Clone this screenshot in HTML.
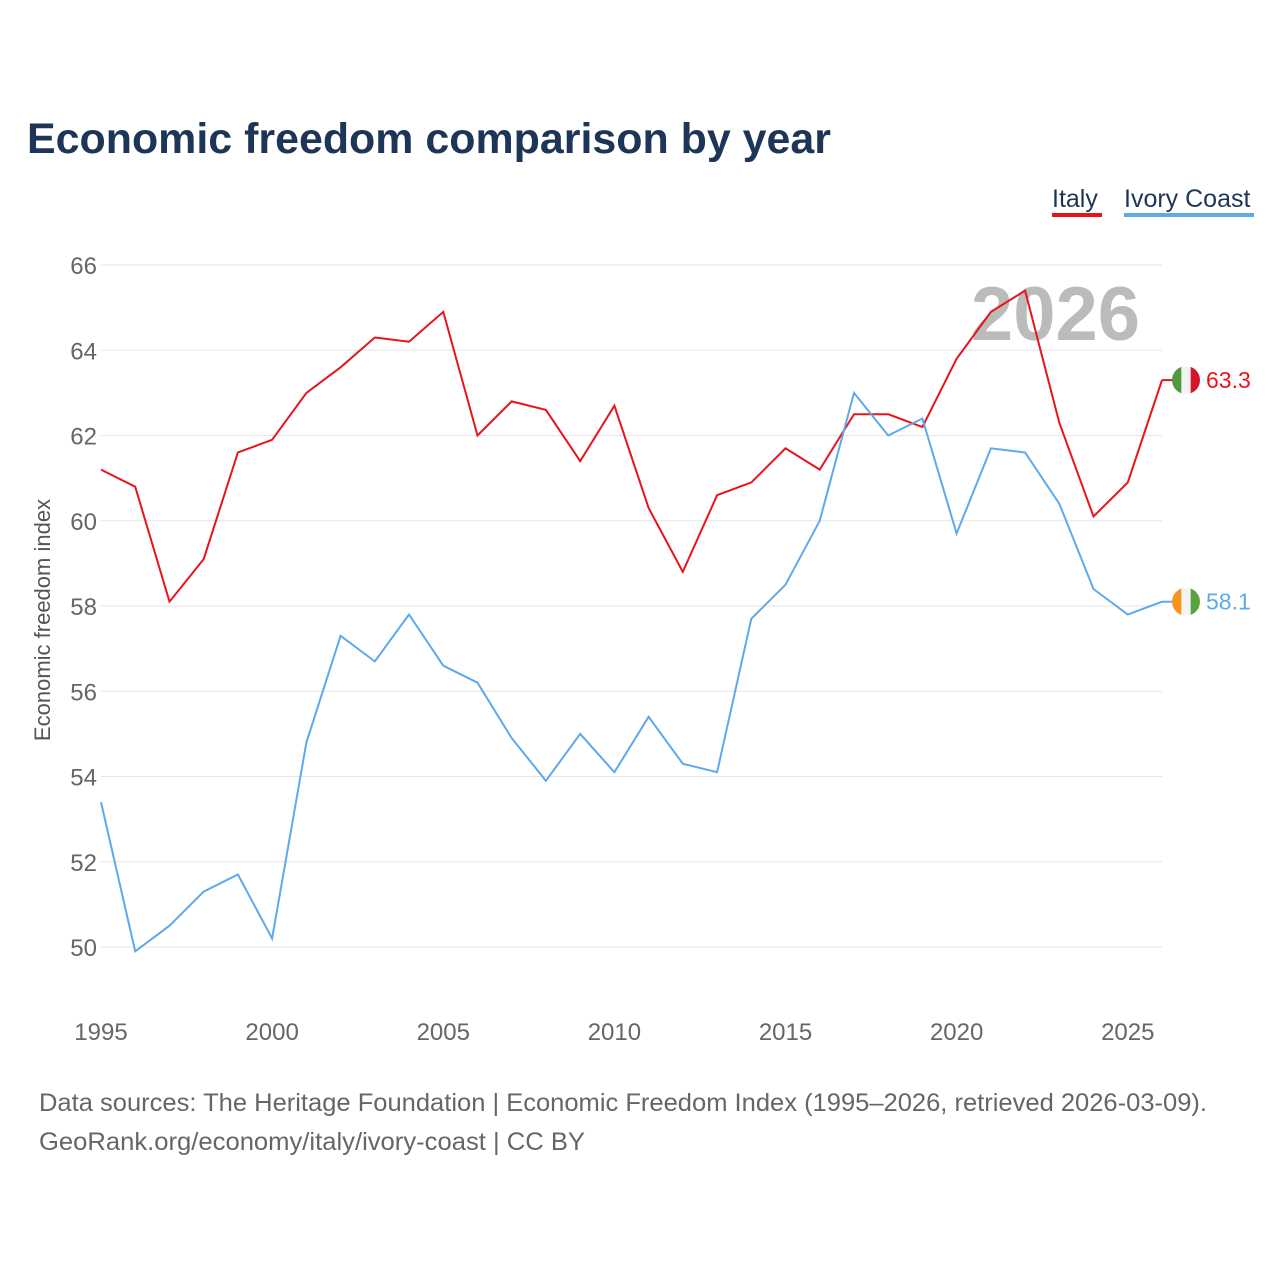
<!DOCTYPE html>
<html><head><meta charset="utf-8"><style>
html,body{margin:0;padding:0;background:#fff;}
body{width:1280px;height:1280px;overflow:hidden;font-family:"Liberation Sans",sans-serif;}
</style></head><body>
<svg id="chart" width="1280" height="1280" xmlns="http://www.w3.org/2000/svg">
<text x="27" y="153" font-size="43" font-weight="bold" fill="#1d3557" textLength="804" lengthAdjust="spacingAndGlyphs">Economic freedom comparison by year</text>
<g>
<text x="1052" y="207" font-size="25" fill="#1d3557">Italy</text>
<rect x="1052" y="213" width="50" height="4" fill="#e8141c"/>
<text x="1124" y="207" font-size="25" fill="#1d3557">Ivory Coast</text>
<rect x="1124" y="213" width="130" height="4" fill="#5ea9eb"/>
</g>
<text x="1140" y="340" font-size="76" font-weight="bold" fill="#bbbbbb" text-anchor="end">2026</text>
<g id="grid"></g><g id="yticks"></g><g id="xticks"></g><g id="lines"></g>
<text transform="translate(50,620) rotate(-90)" font-size="22" fill="#555" text-anchor="middle">Economic freedom index</text>
<text x="39" y="1111" font-size="25" fill="#666" textLength="1168" lengthAdjust="spacingAndGlyphs">Data sources: The Heritage Foundation | Economic Freedom Index (1995–2026, retrieved 2026-03-09).</text>
<text x="39" y="1150" font-size="25" fill="#666" textLength="546" lengthAdjust="spacingAndGlyphs">GeoRank.org/economy/italy/ivory-coast | CC BY</text>
</svg>
<script>
const years=[1995,1996,1997,1998,1999,2000,2001,2002,2003,2004,2005,2006,2007,2008,2009,2010,2011,2012,2013,2014,2015,2016,2017,2018,2019,2020,2021,2022,2023,2024,2025,2026];
const italy=[61.2,60.8,58.1,59.1,61.6,61.9,63.0,63.6,64.3,64.2,64.9,62.0,62.8,62.6,61.4,62.7,60.3,58.8,60.6,60.9,61.7,61.2,62.5,62.5,62.2,63.8,64.9,65.4,62.3,60.1,60.9,63.3];
const ivoryCoast=[53.4,49.9,50.5,51.3,51.7,50.2,54.8,57.3,56.7,57.8,56.6,56.2,54.9,53.9,55.0,54.1,55.4,54.3,54.1,57.7,58.5,60.0,63.0,62.0,62.4,59.7,61.7,61.6,60.4,58.4,57.8,58.1];
const yTicks=[50,52,54,56,58,60,62,64,66];
const xTicks=[1995,2000,2005,2010,2015,2020,2025];
const NS="http://www.w3.org/2000/svg";
const X=y=>101+(y-1995)*(1162-101)/31;
const Y=v=>947-(v-50)*(947-265)/16;
function mk(t,a,p){const e=document.createElementNS(NS,t);for(const k in a)e.setAttribute(k,a[k]);document.getElementById(p).appendChild(e);return e;}
yTicks.forEach(v=>{
 const l=mk('line',{x1:101,x2:1162,y1:Y(v),y2:Y(v),stroke:'#e6e6e6','stroke-width':1},'grid');
 
 
 const t=mk('text',{x:97,y:Y(v)+9,'font-size':24,fill:'#666','text-anchor':'end'},'yticks');
 t.textContent=v;
 
 
});
xTicks.forEach(v=>{
 const t=mk('text',{x:X(v),y:1040,'font-size':24,fill:'#666','text-anchor':'middle'},'xticks');
 t.textContent=v;
 
 
});
function series(vals,color,name,flag){
 const d=vals.map((v,i)=>(i?'L':'M')+X(years[i]).toFixed(1)+','+Y(v).toFixed(1)).join('');
 const p=mk('path',{d:d,fill:'none',stroke:color,'stroke-width':2},'lines');
 
 
 const last=vals[vals.length-1],ly=Y(last),lx=X(years[years.length-1]);
 const c=mk('line',{x1:lx,x2:lx+10,y1:ly,y2:ly,stroke:color,'stroke-width':2},'lines');
 
 
 const g=mk('g',{},'lines');
 
 
 const cx=lx+24,r=14;
 [[flag[0],-r],[flag[1],-r/3],[flag[2],r/3]].forEach(([f,o])=>{
  const s=document.createElementNS(NS,'rect');
  s.setAttribute('x',cx+o);s.setAttribute('y',ly-r);s.setAttribute('width',r*2/3+0.5);s.setAttribute('height',2*r);s.setAttribute('fill',f);
  s.setAttribute('clip-path','url(#clip-'+name+')');g.appendChild(s);
 });
 const cp=mk('clipPath',{id:'clip-'+name},'lines');
 const cc=document.createElementNS(NS,'circle');cc.setAttribute('cx',cx);cc.setAttribute('cy',ly);cc.setAttribute('r',r);cp.appendChild(cc);
 const t=mk('text',{x:cx+20,y:ly+8,'font-size':23,fill:color},'lines');
 t.textContent=last.toFixed(1);
 
 
}
series(italy,'#e8141c','italy',['#4f9a3f','#f4f4f4','#d5152c']);
series(ivoryCoast,'#5ea9eb','ivory-coast',['#f7941d','#f4f4f4','#5aa13f']);
</script>
</body></html>
